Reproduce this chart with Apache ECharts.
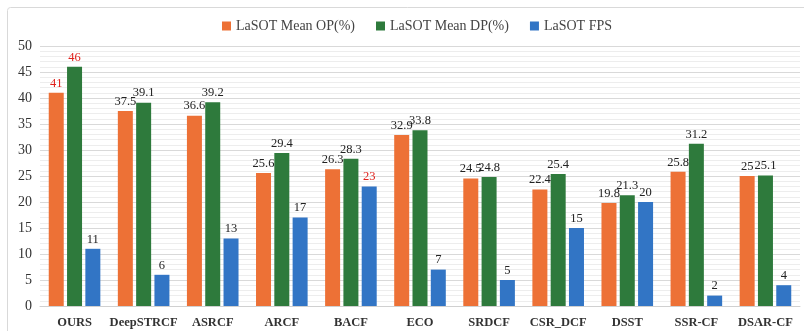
<!DOCTYPE html>
<html>
<head>
<meta charset="utf-8">
<script src="https://cdn.jsdelivr.net/npm/echarts@6/dist/echarts.min.js"></script>
<style>html,body{margin:0;padding:0;background:#fff}#c{width:804px;height:331px}</style>
</head>
<body>
<div id="c"></div>
<script>
const categories = ['OURS','DeepSTRCF','ASRCF','ARCF','BACF','ECO','SRDCF','CSR_DCF','DSST','SSR-CF','DSAR-CF'];
const meanOP = [41, 37.5, 36.6, 25.6, 26.3, 32.9, 24.5, 22.4, 19.8, 25.8, 25];
const meanDP = [46, 39.1, 39.2, 29.4, 28.3, 33.8, 24.8, 25.4, 21.3, 31.2, 25.1];
const fps = [11, 6, 13, 17, 23, 7, 5, 15, 20, 2, 4];
const seriesNames = ['LaSOT Mean OP(%)', 'LaSOT Mean DP(%)', 'LaSOT FPS'];
// values whose labels are highlighted in red, per series
const highlight = [[0], [0], [4]];

const FONT = '"Liberation Serif", "Times New Roman", serif';

function withLabels(values, idx) {
  return values.map((v, i) => highlight[idx].includes(i)
    ? { value: v, label: { color: '#e0201b' } }
    : v);
}

const colors = ['#ed7136', '#2e7a3c', '#3275c5'];

const chart = echarts.init(document.getElementById('c'), null, { renderer: 'canvas' });
chart.setOption({
  animation: false,
  textStyle: { fontFamily: FONT },
  graphic: [{
    type: 'rect',
    shape: { x: 7.5, y: 7.5, width: 820, height: 340, r: 3 },
    style: { fill: 'none', stroke: '#d9d9d9', lineWidth: 1 },
    silent: true
  }],
  legend: {
    top: 14,
    left: 217,
    itemWidth: 9,
    itemHeight: 9,
    itemGap: 21,
    icon: 'rect',
    textStyle: { fontFamily: FONT, fontSize: 14, color: '#444' },
    data: seriesNames
  },
  grid: { left: 40, right: 4, top: 46, bottom: 25, containLabel: false },
  xAxis: {
    type: 'category',
    data: categories,
    axisTick: { show: false },
    axisLine: { lineStyle: { color: '#d0d0d0' } },
    axisLabel: { interval: 0, fontFamily: FONT, fontWeight: 'bold', fontSize: 12.5, color: '#333', margin: 10 }
  },
  yAxis: {
    type: 'value',
    min: 0, max: 50, interval: 5,
    axisLabel: { fontFamily: FONT, fontSize: 14, color: '#333', margin: 8 },
    axisLine: { show: false },
    axisTick: { show: false },
    splitLine: { lineStyle: { color: '#d9d9d9', width: 1 } },
    minorTick: { show: false, splitNumber: 5 },
    minorSplitLine: { show: true, lineStyle: { color: '#ededed', width: 1 } }
  },
  series: [meanOP, meanDP, fps].map((vals, idx) => ({
    name: seriesNames[idx],
    type: 'bar',
    data: withLabels(vals, idx),
    barWidth: 15,
    barGap: '22%',
    itemStyle: { color: colors[idx] },
    label: { show: true, position: 'top', distance: 3, fontFamily: FONT, fontSize: 12.5, color: '#222' }
  }))
});
</script>
</body>
</html>
